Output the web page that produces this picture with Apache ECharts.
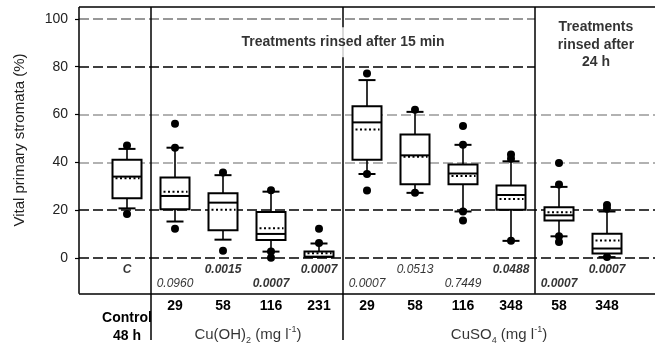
<!DOCTYPE html>
<html>
<head>
<meta charset="utf-8">
<script src="https://cdn.jsdelivr.net/npm/echarts@6/dist/echarts.min.js"></script>
<style>
  html, body { margin: 0; padding: 0; background: #fff; }
  #chart { width: 658px; height: 343px; }
</style>
</head>
<body>
<div id="chart"></div>
<script>
// groups along the x axis: control, Cu(OH)2 15 min, CuSO4 15 min, CuSO4 24 h
const categories = ['Control', '29', '58', '116', '231', '29', '58', '116', '348', '58', '348'];
const lowWhisker = [20.7, 15.2, 7.6, 2.6, 0.4, 35.1, 27.2, 19.4, 7.1, 9.0, 0.3];
const q1 = [24.9, 20.3, 11.5, 7.5, 0.4, 41.1, 30.8, 30.8, 20.1, 15.6, 1.8];
const medians = [34.0, 25.9, 23.1, 10.0, 0.4, 56.7, 42.9, 35.3, 26.3, 17.8, 3.9];
const q3 = [41.1, 33.6, 27.0, 19.2, 2.6, 63.4, 51.6, 39.1, 30.3, 21.2, 10.1];
const highWhisker = [45.6, 46.1, 34.6, 27.7, 6.0, 74.4, 61.1, 47.3, 40.4, 29.7, 19.4];
const means = [33.3, 27.7, 20.1, 12.4, 1.9, 53.7, 42.3, 34.3, 24.6, 19.1, 7.3];
const outliers = [
  [47.0, 18.3],
  [56.1, 46.1, 12.2],
  [35.7, 3.0],
  [28.3, 2.6, 0],
  [12.2, 6.2],
  [77.2, 35.1, 28.2],
  [62.0, 27.2],
  [55.2, 47.3, 19.4, 15.6],
  [43.3, 41.5, 7.1],
  [39.7, 30.7, 9.0, 6.6],
  [22.1, 20.5, 0.3]
];
const pValues = ['C', '0.0960', '0.0015', '0.0007', '0.0007', '0.0007', '0.0513', '0.7449', '0.0488', '0.0007', '0.0007'];
const pSignificant = [true, false, true, true, true, false, false, false, true, true, true];
const yTicks = [0, 20, 40, 60, 80, 100];

const FONT = '"Liberation Sans", Arial, sans-serif';

const chart = echarts.init(document.getElementById('chart'));

const boxData = categories.map((c, i) => [i + 1, lowWhisker[i], q1[i], medians[i], q3[i], highWhisker[i], means[i]]);
const dotData = [];
outliers.forEach((list, i) => list.forEach(v => dotData.push([i + 1, v])));

const pLabels = pValues.map((p, i) => ({
  value: [i + 1, i % 2 === 0 ? -4.85 : -10.7],
  label: {
    formatter: p,
    fontStyle: 'italic',
    fontWeight: pSignificant[i] ? 'bold' : 'normal'
  }
}));

const texts = [
  {
    value: [5.5, 90.2],
    label: {
      formatter: 'Treatments rinsed after 15 min',
      fontWeight: 'bold', fontSize: 14,
      backgroundColor: '#fff', padding: [8, 6]
    }
  },
  {
    value: [10.77, 89.1],
    label: {
      formatter: 'Treatments\nrinsed after\n24 h',
      fontWeight: 'bold', fontSize: 14, lineHeight: 17.5,
      backgroundColor: '#fff', width: 112, align: 'center', padding: [7, 0]
    }
  },
  {
    value: [3.52, -32.2],
    label: { formatter: '{n|Cu(OH)}{sub|2}{n| (mg l}{sup|-1}{n|)}' }
  },
  {
    value: [8.75, -32.2],
    label: { formatter: '{n|CuSO}{sub|4}{n| (mg l}{sup|-1}{n|)}' }
  }
];

// the 24 h title box hides the upper two lines in the last panel
const gridLines = [
  { v: 0, color: '#000', end: 12 },
  { v: 20, color: '#000', end: 12 },
  { v: 40, color: '#999', end: 12 },
  { v: 60, color: '#999', end: 12 },
  { v: 80, color: '#000', end: 9.5 },
  { v: 100, color: '#777', end: 9.5 }
];

const solid = { color: '#000', width: 1.5, type: 'solid' };
const seg = (x1, y1, x2, y2) => [{ coord: [x1, y1], lineStyle: solid }, { coord: [x2, y2] }];

const textLabel = {
  show: true, position: 'inside',
  color: '#000', fontSize: 12, fontFamily: FONT,
  rich: {
    n: { fontSize: 15, fontFamily: FONT, color: '#000', lineHeight: 20 },
    sub: { fontSize: 9, fontFamily: FONT, color: '#000', verticalAlign: 'bottom', lineHeight: 13 },
    sup: { fontSize: 9, fontFamily: FONT, color: '#000', verticalAlign: 'top', lineHeight: 13 }
  }
};

const option = {
  animation: false,
  backgroundColor: '#fff',
  textStyle: { fontFamily: FONT },
  grid: { left: 79, right: 3, top: 7, bottom: 0 },
  xAxis: {
    type: 'value', min: 0, max: 12,
    offset: -47,
    axisLine: { show: false },
    axisTick: { show: false },
    splitLine: { show: false },
    axisLabel: {
      customValues: [1, 2, 3, 4, 5, 6, 7, 8, 9, 10, 11],
      margin: 6,
      color: '#000', fontWeight: 'bold', fontSize: 14, fontFamily: FONT,
      formatter: v => v === 1 ? '{t| }\n{c|Control}\n{c|48 h}' : categories[v - 1],
      rich: {
        t: { fontSize: 1, lineHeight: 10 },
        c: { fontSize: 14, fontWeight: 'bold', lineHeight: 18, fontFamily: FONT }
      }
    }
  },
  yAxis: {
    type: 'value', min: -34.4, max: 105,
    axisLine: { show: false },
    splitLine: { show: false },
    axisTick: { show: true, customValues: yTicks, length: 4, lineStyle: { color: '#000', width: 1.2 } },
    axisLabel: { customValues: yTicks, margin: 11, color: '#222', fontSize: 14, fontFamily: FONT }
  },
  graphic: [{
    type: 'text',
    x: 20, y: 140,
    rotation: Math.PI / 2,
    style: {
      text: 'Vital primary stromata (%)',
      font: '15px ' + FONT,
      fill: '#222',
      align: 'center', verticalAlign: 'middle'
    }
  }],
  series: [
    {
      // frame, dashed grid lines and group separators
      type: 'line', data: [], z: 1, silent: true,
      markLine: {
        z: 1,
        silent: true, symbol: ['none', 'none'], label: { show: false },
        data: [
          ...gridLines.map(g => [
            { coord: [0, g.v], lineStyle: { color: g.color, width: 1.5, type: [10, 4] } },
            { coord: [g.end, g.v] }
          ]),
          seg(0, -15, 0, 105),
          seg(0, 105, 12, 105),
          seg(0, -15, 12, -15),
          seg(1.5, -34.4, 1.5, 105),
          seg(5.5, -34.4, 5.5, 105),
          seg(9.5, -15, 9.5, 105)
        ]
      }
    },
    {
      type: 'custom', z: 2, silent: true,
      data: boxData,
      encode: { x: 0, y: [1, 2, 3, 4, 5, 6] },
      renderItem: (params, api) => {
        const x = api.value(0);
        const at = v => api.coord([x, v]);
        const lo = at(api.value(1)), b1 = at(api.value(2)), md = at(api.value(3));
        const b3 = at(api.value(4)), hi = at(api.value(5)), mn = at(api.value(6));
        const cx = lo[0], bw = 29, cw = 17;
        const ln = { stroke: '#000', lineWidth: 1.6 };
        return {
          type: 'group',
          children: [
            { type: 'line', shape: { x1: cx, y1: hi[1], x2: cx, y2: b3[1] }, style: ln },
            { type: 'line', shape: { x1: cx, y1: b1[1], x2: cx, y2: lo[1] }, style: ln },
            { type: 'line', shape: { x1: cx - cw / 2, y1: hi[1], x2: cx + cw / 2, y2: hi[1] }, style: { stroke: '#000', lineWidth: 2 } },
            { type: 'line', shape: { x1: cx - cw / 2, y1: lo[1], x2: cx + cw / 2, y2: lo[1] }, style: { stroke: '#000', lineWidth: 2 } },
            { type: 'rect', shape: { x: cx - bw / 2, y: b3[1], width: bw, height: b1[1] - b3[1] }, style: { fill: '#fff', stroke: '#000', lineWidth: 2 } },
            { type: 'line', shape: { x1: cx - bw / 2, y1: md[1], x2: cx + bw / 2, y2: md[1] }, style: { stroke: '#000', lineWidth: 2 } },
            { type: 'line', shape: { x1: cx - bw / 2 + 3, y1: mn[1], x2: cx + bw / 2 - 2, y2: mn[1] }, style: { stroke: '#000', lineWidth: 2, lineDash: [2, 2.5] } }
          ]
        };
      }
    },
    {
      type: 'scatter', z: 3, silent: true,
      data: dotData,
      symbol: 'circle', symbolSize: 8,
      itemStyle: { color: '#000', opacity: 1 }
    },
    {
      type: 'scatter', z: 10, silent: true,
      data: pLabels.concat(texts),
      symbolSize: 0,
      label: textLabel
    }
  ]
};

chart.setOption(option);
</script>
</body>
</html>
